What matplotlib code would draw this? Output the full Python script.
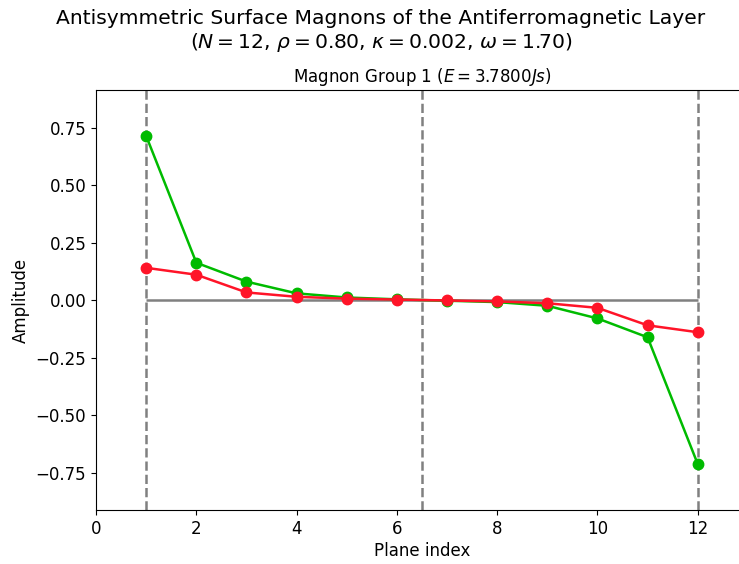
""" Antisymmetric surface magnons - group 1 """

import numpy as np
import matplotlib
matplotlib.use('Agg')
import matplotlib.pyplot as plt

# Data
planes = np.arange(1, 13)
amp_green = [0.713, 0.162, 0.080, 0.029, 0.011, 0.003,
             -0.003, -0.009, -0.025, -0.080, -0.162, -0.713]
amp_red = [0.140, 0.110, 0.033, 0.014, 0.006, 0.002,
           -0.002, -0.006, -0.014, -0.034, -0.110, -0.140]
boundaries = [1, 6.5, 12]

fig = plt.figure(figsize=(7.39, 5.64), dpi=100)
ax = fig.add_axes([0.130, 0.0957, 0.882, 0.7447])

for xb in boundaries:
    ax.axvline(xb, color='gray', linestyle='--', linewidth=1.8, zorder=1)
ax.hlines(0, planes[0], planes[-1], color='gray', linewidth=1.8, zorder=1)

ax.plot(planes, amp_green, '-o', color='#00bb00', markersize=7.5,
        linewidth=1.8, zorder=2)
ax.plot(planes, amp_red, '-o', color='#ff1428', markersize=7.5,
        linewidth=1.8, zorder=3)

ax.set_xlim(0, 13)
ax.set_ylim(-0.913, 0.913)
ax.set_xticks([0, 2, 4, 6, 8, 10, 12])
ax.set_yticks([-0.75, -0.5, -0.25, 0, 0.25, 0.5, 0.75])
ax.tick_params(labelsize=12)
ax.set_xlabel('Plane index', fontsize=12, labelpad=3)
ax.set_ylabel('Amplitude', fontsize=12)
ax.set_title(r'Magnon Group 1 ($E=3.7800Js$)', fontsize=12, pad=6)

fig.suptitle('Antisymmetric Surface Magnons of the Antiferromagnetic Layer\n'
             r'($N=12$, $\rho=0.80$, $\kappa=0.002$, $\omega=1.70$)',
             fontsize=14.6, x=0.5155, y=0.984)

fig.savefig('out.png', dpi=100)
